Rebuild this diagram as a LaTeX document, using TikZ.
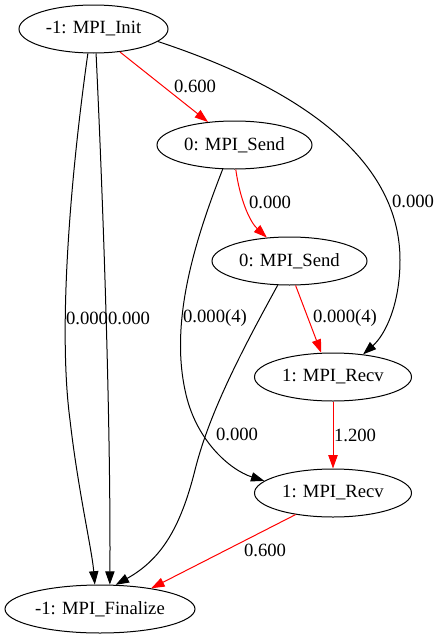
\documentclass[tikz,border=0pt]{standalone}
\usepackage{fontspec}
\setmainfont{Liberation Serif}
\usetikzlibrary{shapes.geometric,arrows.meta}

\tikzset{
  call/.style={draw, ellipse, inner sep=0pt, minimum height=36pt, line width=0.75pt,
    font=\fontsize{14}{16}\selectfont},
  lbl/.style={inner sep=0pt, font=\fontsize{14}{16}\selectfont},
  edge/.style={-{Triangle[length=10pt,width=7pt]}, line width=0.75pt},
  hot/.style={edge, red}
}

\begin{document}
\begin{tikzpicture}[x=0.75pt, y=-0.75pt]

      \useasboundingbox (0,0) rectangle (438,639);

      \node[call, minimum width=111.75pt] (init) at (93.5,29) {-1: MPI\_Init};
      \node[call, minimum width=116.25pt] (sendA) at (234.5,145) {0: MPI\_Send};
      \node[call, minimum width=116.25pt] (sendB) at (289.5,261) {0: MPI\_Send};
      \node[call, minimum width=117.75pt] (recvA) at (333,377) {1: MPI\_Recv};
      \node[call, minimum width=117.75pt] (recvB) at (333,493) {1: MPI\_Recv};
      \node[call, minimum width=142.5pt] (fin) at (100,609) {-1: MPI\_Finalize};

      \draw[hot] (init.-41) -- (sendA.139);
      \draw[edge] (init.-11) .. controls (320,95) and (400,170) .. (400,260)
                         .. controls (400,305) and (385,335) .. (recvA.37);
      \draw[edge] (init.-103) .. controls (70,180) and (58,330) .. (70,420)
                         .. controls (78,490) and (92,550) .. (fin.102);
      \draw[edge] (init.-84) .. controls (103,200) and (110,400) .. (110,550) -- (fin.68);
      \draw[hot] (sendA.-87) .. controls (240,200) and (250,222) .. (sendB.134);
      \draw[edge] (sendA.-116) .. controls (195,240) and (170,320) .. (185,390)
                          .. controls (195,440) and (230,470) .. (recvB.170);
      \draw[hot] (sendB.-76) -- (recvA.116);
      \draw[edge] (sendB.-116) .. controls (245,345) and (210,410) .. (195,470)
                          .. controls (180,530) and (160,560) .. (fin.57);
      \draw[hot] (recvA) -- (recvB);
      \draw[hot] (recvB.-150) -- (fin.22);

      \node[lbl] (l1) at (195,86) {0.600};
      \node[lbl] (l2) at (413,201) {0.000};
      \node[lbl] (l3) at (87,318) {0.000};
      \node[lbl] (l4) at (129,318) {0.000};
      \node[lbl] (l5) at (270,202) {0.000};
      \node[lbl] (l6) at (215,318) {0.000(4)};
      \node[lbl] (l7) at (345,318) {0.000(4)};
      \node[lbl] (l8) at (237,434) {0.000};
      \node[lbl] (l9) at (355,435) {1.200};
      \node[lbl] (l10) at (265,550) {0.600};

\end{tikzpicture}
\end{document}
